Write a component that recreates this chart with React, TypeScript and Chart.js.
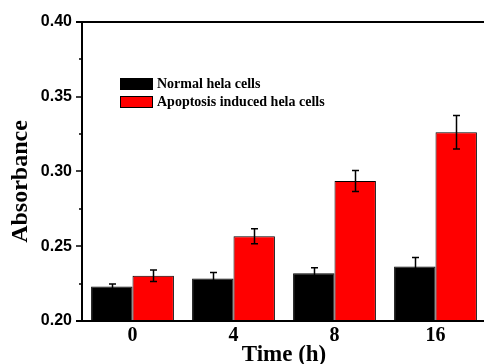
import React, { useEffect, useRef } from "react";
import { Chart, registerables } from "chart.js";

Chart.register(...registerables);

const categories = ["0", "4", "8", "16"];
const normalValues = [0.223, 0.2285, 0.232, 0.2365];
const normalErrors = [0.0017, 0.004, 0.0037, 0.006];
const apoptosisValues = [0.2303, 0.2567, 0.2937, 0.3262];
const apoptosisErrors = [0.0038, 0.005, 0.007, 0.0112];
const seriesNames = ["Normal hela cells", "Apoptosis induced hela cells"];
const seriesColors = ["#000000", "#ff0000"];
const yMin = 0.2;
const yMax = 0.4;
const yMajorStep = 0.05;
const yMinorStep = 0.025;
const xTitle = "Time (h)";
const yTitle = "Absorbance";

const decorPlugin = {
  id: "decor",
  afterDatasetsDraw(chart: any) {
    const ctx = chart.ctx;
    const area = chart.chartArea;
    const y = chart.scales.y;
    const errs = [normalErrors, apoptosisErrors];
    const vals = [normalValues, apoptosisValues];
    ctx.save();
    ctx.strokeStyle = "#000";
    ctx.lineWidth = 1.5;
    for (let d = 0; d < 2; d++) {
      const meta = chart.getDatasetMeta(d);
      meta.data.forEach((bar: any, i: number) => {
        const x = Math.round(bar.x) + 0.5;
        const top = y.getPixelForValue(vals[d][i] + errs[d][i]);
        const bot = y.getPixelForValue(vals[d][i] - errs[d][i]);
        ctx.beginPath();
        ctx.moveTo(x, top);
        ctx.lineTo(x, bot);
        ctx.moveTo(x - 3.5, top);
        ctx.lineTo(x + 3.5, top);
        ctx.moveTo(x - 3.5, bot);
        ctx.lineTo(x + 3.5, bot);
        ctx.stroke();
      });
    }
    ctx.lineWidth = 2;
    ctx.beginPath();
    ctx.moveTo(area.left, area.top);
    ctx.lineTo(area.left, area.bottom);
    ctx.moveTo(area.left - 6, area.bottom);
    ctx.lineTo(area.right + 20, area.bottom);
    ctx.moveTo(area.left - 6, area.top);
    ctx.lineTo(area.right + 20, area.top);
    ctx.stroke();
    ctx.lineWidth = 1.5;
    const n = Math.round((yMax - yMin) / yMinorStep);
    for (let k = 0; k <= n; k++) {
      const v = yMin + k * yMinorStep;
      const py = Math.round(y.getPixelForValue(v));
      const major = k % Math.round(yMajorStep / yMinorStep) === 0;
      ctx.beginPath();
      ctx.moveTo(area.left - (major ? 6 : 3), py);
      ctx.lineTo(area.left, py);
      ctx.stroke();
    }
    const lx = 120;
    const ly = [78, 96];
    for (let d = 0; d < 2; d++) {
      ctx.fillStyle = seriesColors[d];
      ctx.fillRect(lx, ly[d], 33, 12);
      ctx.lineWidth = 1;
      ctx.strokeStyle = "#000";
      ctx.strokeRect(lx + 0.5, ly[d] + 0.5, 32, 11);
      ctx.fillStyle = "#000";
      ctx.font = "bold 14px 'Liberation Serif'";
      ctx.textAlign = "left";
      ctx.textBaseline = "middle";
      ctx.fillText(seriesNames[d], 157, ly[d] + 6.5);
    }
    ctx.fillStyle = "#000";
    ctx.font = "bold 23px 'Liberation Serif'";
    ctx.textAlign = "center";
    ctx.textBaseline = "alphabetic";
    ctx.fillText(xTitle, (area.left + area.right) / 2, 361);
    ctx.save();
    ctx.translate(27, (area.top + area.bottom) / 2 + 10);
    ctx.rotate(-Math.PI / 2);
    ctx.font = "bold 24px 'Liberation Serif'";
    ctx.fillText(yTitle, 0, 0);
    ctx.restore();
    ctx.restore();
  },
};

export default function App() {
  const ref = useRef<HTMLCanvasElement>(null);
  useEffect(() => {
    const chart = new Chart(ref.current as HTMLCanvasElement, {
      type: "bar",
      data: {
        labels: categories,
        datasets: [
          {
            label: seriesNames[0],
            data: normalValues,
            backgroundColor: seriesColors[0],
            borderColor: "#000",
            borderWidth: 1,
          },
          {
            label: seriesNames[1],
            data: apoptosisValues,
            backgroundColor: seriesColors[1],
            borderColor: "#000",
            borderWidth: 1,
          },
        ],
      },
      options: {
        responsive: false,
        animation: false,
        devicePixelRatio: 1,
        layout: { padding: { top: 22, right: 34, left: 0, bottom: 0 } },
        plugins: { legend: { display: false }, tooltip: { enabled: false } },
        datasets: { bar: { categoryPercentage: 0.82, barPercentage: 1 } },
        scales: {
          x: {
            grid: { display: false, drawTicks: false },
            border: { display: false },
            ticks: {
              color: "#000",
              padding: 3,
              font: { family: "'Liberation Serif'", size: 20, weight: "bold" },
            },
            afterFit(scale: any) {
              scale.height = 43;
            },
          },
          y: {
            min: yMin,
            max: yMax,
            grid: { display: false, drawTicks: false },
            border: { display: false },
            ticks: {
              stepSize: yMajorStep,
              color: "#000",
              padding: 10,
              font: { family: "'Liberation Sans'", size: 16, weight: "bold" },
              callback: (v: any) => Number(v).toFixed(2),
            },
            afterFit(scale: any) {
              scale.width = 82;
            },
          },
        },
      },
      plugins: [decorPlugin],
    } as any);
    return () => chart.destroy();
  }, []);
  return (
    <div
      style={{
        position: "fixed",
        left: 0,
        top: 0,
        width: 484,
        height: 364,
        overflow: "hidden",
        background: "#fff",
      }}
    >
      <canvas ref={ref} width={520} height={364} style={{ display: "block" }} />
    </div>
  );
}
